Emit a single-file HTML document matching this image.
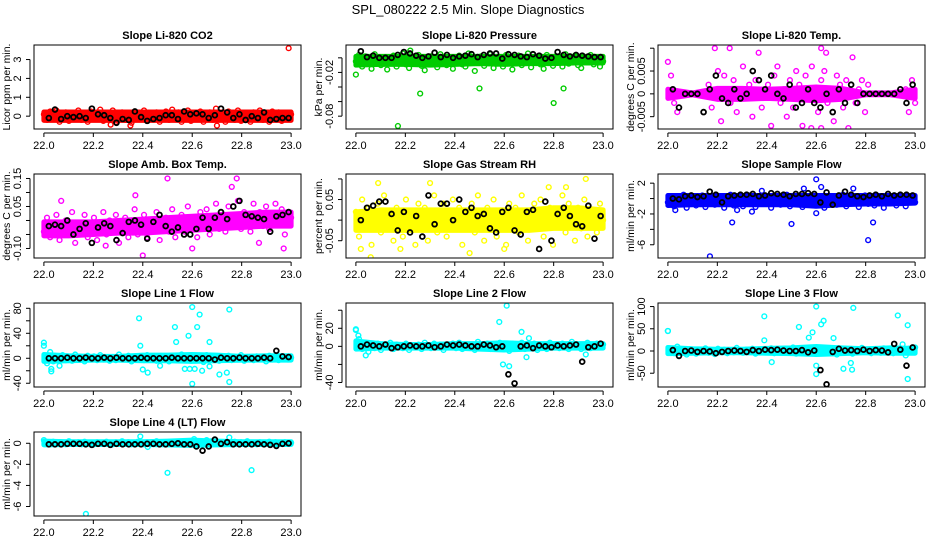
<!DOCTYPE html>
<html><head><meta charset="utf-8">
<style>
html,body{margin:0;padding:0;background:#fff;}
svg{display:block;font-family:"Liberation Sans",Arial,sans-serif;}
</style></head>
<body>
<svg id="chart" width="936" height="540" viewBox="0 0 936 540" xmlns="http://www.w3.org/2000/svg">
<rect width="936" height="540" fill="#fff"/>
<text x="468" y="14" text-anchor="middle" font-size="13">SPL_080222  2.5 Min. Slope Diagnostics</text>
</svg>
<script>
// ---- data ----
const xTicks=[22.0,22.2,22.4,22.6,22.8,23.0];
const xTickLabels=["22.0","22.2","22.4","22.6","22.8","23.0"];
const bandTimes=[22.0,22.1,22.2,22.3,22.4,22.5,22.6,22.7,22.8,22.9,23.0];

const co2Color=[0.1,-0.2,0.25,-0.1,0.3,-0.3,0.05,0.2,-0.25,0.15,-0.05,0.3,-0.2,0.1,-0.3,0.25,0,-0.15,0.35,-0.25,0.15,-0.1,0.3,-0.3,0.05,0.2,-0.2,0.1,-0.35,0.25,0,-0.15,0.3,-0.25,0.15,-0.05,0.2,-0.3,0.1,0.25,-0.2,0.35,-0.1,0.2,-0.3,0.05,0.3,-0.25,0.15,-0.1,0.25,-0.3,0.1,0.2,-0.2,0.4,-0.15,0.05,-0.3,0.25,0.1,-0.2,0.3,-0.25,0.15,0,-0.3,0.2,-0.1,0.3,-0.2,0.1,-0.3,0.25,-0.05,0.2,-0.25,0.15,-0.1,0.1];
const co2Black=[-0.1,0.35,-0.15,0,-0.05,0,-0.1,0.4,0.1,0.05,-0.1,-0.35,-0.15,-0.2,0.25,-0.05,-0.25,-0.15,-0.1,0.05,0.05,-0.15,0.25,0.1,0.15,0.1,-0.1,0.05,0.4,0.2,-0.1,0.1,-0.2,0,-0.1,0.2,-0.2,-0.15,-0.1,-0.1];
const co2OutT=[22.99,22.35,22.7,22.27];
const co2OutV=[3.6,-0.5,-0.5,-0.45];
const co2BandLo=[-0.22,-0.22,-0.22,-0.22,-0.22,-0.22,-0.22,-0.22,-0.22,-0.22,-0.22];
const co2BandHi=[0.22,0.22,0.22,0.22,0.22,0.22,0.22,0.22,0.22,0.22,0.22];

const presColor=[-0.005,0.004,-0.012,0.002,-0.008,-0.015,0.005,-0.003,-0.01,0.001,-0.016,-0.006,0.003,-0.012,-0.002,0.006,-0.009,-0.014,0,-0.005,0.004,-0.011,-0.017,-0.003,0.002,-0.008,-0.013,0.005,-0.006,-0.01,0.001,-0.015,-0.004,0.003,-0.009,-0.012,0.006,-0.002,-0.018,-0.007,0.002,-0.011,-0.004,0.005,-0.014,-0.008,0,-0.012,0.004,-0.006,-0.016,-0.002,0.003,-0.01,-0.005,0.006,-0.013,-0.003,0.001,-0.009,-0.015,0.004,-0.006,-0.011,0.002,-0.004,-0.012,0.005,-0.008,-0.002,0.003,-0.01,-0.014,0,-0.006,0.004,-0.009,-0.003,-0.012,-0.005];
const presBlack=[0.009,0.001,0.003,0,0,0,0.004,0.008,0.006,0.003,0,0.002,0.007,0.001,0.004,0,0.002,0.003,0.005,0.001,0.004,0.006,0.006,-0.001,0.005,0.004,0.002,0.001,0.005,0.003,-0.001,0,0.008,0.004,0.002,0.004,0.003,0.002,0.001,0.001];
const presOutT=[22.17,22.26,22.5,22.8,22.84,22.0,22.22];
const presOutV=[-0.0935,-0.049,-0.042,-0.062,-0.042,-0.023,0.01];
const presBandLo=[-0.01,-0.009,-0.009,-0.01,-0.009,-0.008,-0.009,-0.008,-0.008,-0.007,-0.007];
const presBandHi=[0.002,0.002,0.002,0.002,0.002,0.002,0.002,0.002,0.002,0.002,0.002];

const tempColor=[0.007,0.004,-0.002,-0.004,0,0,0,0,0,0,0,0,0,0.002,-0.003,0.01,0.005,-0.006,0.004,0,-0.002,0.003,-0.004,0.001,0.006,-0.001,0.002,-0.005,0.003,0.009,-0.003,0,0.002,-0.007,0.004,0.006,-0.002,0.001,-0.005,0.003,-0.003,0.005,0.002,-0.007,0.004,-0.001,0.006,0,-0.004,0.003,0.005,-0.002,0.001,-0.006,0.004,0.002,-0.003,0.003,0,0.008,-0.002,0.001,0.003,-0.004,0.002,0,0,0,0,0,0,0,0,0,0,0,0.001,-0.004,0.003,-0.002];
const tempBlack=[0.001,-0.003,0,0,0,-0.004,0.001,0.004,-0.001,-0.002,0.001,-0.001,0,0.005,0.003,0.001,0.004,0,-0.001,0.002,-0.003,-0.002,0.001,-0.002,-0.003,0,-0.004,0.001,-0.002,0.002,-0.002,0,0,0,0,0,0,0.001,-0.002,0.002];
const tempOutT=[22.25,22.62,22.58,22.73,22.62,22.64];
const tempOutV=[0.01,0.01,-0.0075,-0.0075,-0.0075,0.009];
const tempBandLo=[-0.001,-0.0002,-0.0012,-0.0012,-0.001,-0.0012,-0.0015,-0.0012,-0.0002,-0.0002,-0.001];
const tempBandHi=[0.001,0.0002,0.0012,0.0012,0.001,0.0012,0.0015,0.0012,0.0002,0.0002,0.001];

const ambColor=[-0.04,0.01,-0.06,-0.02,0.02,-0.07,-0.03,0,-0.05,0.03,-0.08,-0.01,-0.04,0.02,-0.06,-0.02,0.01,-0.07,-0.03,0.03,-0.05,0,-0.04,0.02,-0.08,-0.02,0.01,-0.06,-0.03,0.04,-0.05,-0.01,0.02,-0.06,0,-0.03,0.03,-0.07,-0.02,0.01,-0.04,0.04,-0.06,-0.01,0.02,-0.04,0.05,-0.03,0,-0.06,0.03,-0.02,0.04,-0.05,0.01,0.06,-0.03,0.02,-0.04,0.05,0,-0.02,0.07,-0.03,0.03,0.01,-0.04,0.06,0,0.03,-0.02,0.05,-0.03,0.02,0.06,-0.01,0.04,-0.05,0.03,0.01];
const ambBlack=[-0.02,-0.015,-0.02,0,-0.05,-0.03,-0.01,-0.08,-0.025,-0.01,-0.02,-0.07,-0.045,-0.005,0,-0.015,-0.065,-0.005,0.02,-0.02,-0.04,-0.025,-0.05,-0.05,-0.03,0.01,-0.03,0.01,0.03,0.005,0.05,0.07,0.02,0.015,0.01,0.005,-0.04,0.015,0.02,0.03];
const ambOutT=[22.5,22.78,22.76,22.4,22.25,22.37,22.97,22.6,22.87,22.07];
const ambOutV=[0.15,0.15,0.12,-0.125,-0.09,0.09,-0.1,-0.1,-0.08,0.07];
const ambBandLo=[-0.055,-0.055,-0.05,-0.045,-0.045,-0.04,-0.035,-0.03,-0.025,-0.02,-0.02];
const ambBandHi=[-0.005,-0.005,-0.005,0,0.005,0.01,0.015,0.02,0.025,0.03,0.03];

const rhColor=[0.02,-0.04,0.05,-0.01,0.03,-0.06,0.01,0.04,-0.03,0.06,-0.02,0.02,-0.05,0.03,0,-0.04,0.05,-0.02,0.01,-0.06,0.04,-0.01,0.03,-0.05,0.02,0.06,-0.03,0,0.04,-0.04,0.01,0.05,-0.02,0.03,-0.06,0.02,-0.01,0.04,-0.03,0.06,0,-0.05,0.03,-0.02,0.05,-0.04,0.01,0.02,-0.06,0.04,-0.01,0.03,-0.03,0.06,0,-0.05,0.02,0.04,-0.02,0.05,-0.04,0.01,0.03,-0.06,0.02,-0.01,0.06,-0.03,0.04,0,-0.05,0.03,-0.02,0.05,-0.04,0.02,0.01,-0.03,0.04,0];
const rhBlack=[0,0.03,0.035,0.045,0.045,0.015,-0.025,0.02,-0.03,0.01,-0.04,0.06,-0.01,0.04,0.04,0,0.05,0.02,0.03,0.01,0.015,-0.02,-0.03,0.02,0.03,-0.025,-0.035,0.02,0.025,-0.07,0.045,-0.05,0.015,0.03,0.01,-0.01,-0.015,0.035,-0.045,0.01];
const rhOutT=[22.09,22.3,22.93,22.85,22.78,22.02,22.06,22.6,22.18,22.46];
const rhOutV=[0.09,0.09,0.1,0.08,0.08,-0.07,-0.09,-0.07,-0.07,-0.08];
const rhBandLo=[-0.025,-0.025,-0.025,-0.025,-0.025,-0.025,-0.025,-0.025,-0.02,-0.02,-0.02];
const rhBandHi=[0.02,0.025,0.025,0.025,0.025,0.025,0.025,0.025,0.03,0.03,0.025];

const flowColor=[-0.5,0.3,-1,0,-0.7,0.5,-1.2,-0.3,0.2,-0.9,-0.1,0.4,-1.1,-0.4,0.1,-0.8,0.3,-0.6,-1.2,0,0.5,-0.9,-0.3,0.2,-1,-0.5,0.4,-0.2,-1.1,0.1,-0.7,0.3,-0.4,-1.2,0,0.2,-0.8,-0.3,0.5,-1,-0.1,0.3,-0.6,-1.1,0.1,-0.4,0.4,-0.9,-0.2,0.2,-1.2,0,-0.5,0.3,-0.8,-0.3,0.5,-1,0.1,-0.6,0.2,-1.1,-0.2,0.4,-0.7,0,-0.9,0.3,-0.4,-1.2,0.1,-0.6,0.2,-0.9,-0.1,0.3,-1,-0.3,0.2,-0.5];
const flowBlack=[0,-0.1,0.3,0.4,0.2,0.3,0.9,0.5,-0.5,0.3,0.4,0.5,0.5,0.6,0.3,0.4,0.7,0.6,0.5,0.3,0.6,0.6,0.7,0.6,-0.5,0.8,-0.8,0.4,0.9,0.5,0.3,0.2,0.4,0.5,0.3,0.6,0.4,0.5,0.5,0.4];
const flowOutT=[22.6,22.62,22.55,22.75,22.38,22.17,22.26,22.5,22.81,22.83,22.6,22.03,22.34,22.28];
const flowOutV=[2.5,1.5,1.3,1.3,1.0,-7.5,-3.1,-3.3,-5.4,-3.1,-1.9,-1.5,-1.7,-1.5];
const flowBandLo=[-0.9,-0.8,-0.8,-0.8,-0.8,-0.8,-1.0,-0.8,-0.7,-0.7,-0.6];
const flowBandHi=[0.4,0.4,0.4,0.4,0.4,0.4,0.4,0.4,0.4,0.4,0.4];

const l1Color=[20,-8,10,-5,3,-12,5,-3,1,-4,6,-2,2,-5,4,-1,3,-3,5,-2,1,-4,2,-3,6,0,-2,4,-5,2,-1,3,-3,5,-2,1,-4,3,-1,2,-5,4,0,-3,6,-2,1,-4,3,-1,2,-6,5,-2,0,3,-4,2,-1,4,-3,1,-2,5,-4,2,0,-3,3,-1,2,-5,4,-2,1,-3,3,0,-2,1];
const l1Black=[0,0,0,1,0,0,1,0,0,1,0,1,0,0,0,1,0,0,0,0,1,0,0,0,0,0,0,-2,1,0,0,1,0,0,0,1,0,12,3,2];
const l1OutT=[22.0,22.03,22.03,22.385,22.39,22.4,22.42,22.47,22.53,22.535,22.585,22.6,22.62,22.63,22.64,22.6,22.67,22.67,22.71,22.74,22.75,22.75,22.57,22.59,22.61];
const l1OutV=[25,-17,-21,64,20,-18,-23,-12,50,26,36,82,50,70,-20,-41,26,-13,-26,-23,78,-38,-17,-17,-17];
const l1BandLo=[-5,-4,-3,-3,-4,-4,-5,-4,-3,-3,-3];
const l1BandHi=[6,4,3,3,5,5,6,5,3,4,4];

const l2Color=[18,8,-3,4,-6,2,-2,3,-4,1,-1,4,-3,2,0,-2,3,-4,1,-1,2,-3,4,0,-2,3,-1,2,-4,1,0,3,-2,4,-3,1,-1,2,-4,5,-2,0,3,-3,1,-1,4,-2,2,-5,3,0,-2,4,-3,1,-1,3,-4,2,0,-3,4,-1,1,-2,3,0,-3,5,-1,2,-3,1,4,-2,0,3,-1,2];
const l2Black=[0,2,1,0,2,-2,-1,0,1,0,0,1,-1,0,2,1,2,1,0,0,2,1,-1,0,-31,-41,0,1,-2,1,0,-1,1,0,1,2,-17,-1,0,3];
const l2OutT=[22.0,22.01,22.04,22.58,22.61,22.595,22.62,22.67,22.69,22.7,22.93];
const l2OutV=[19,12,-10,27,45,-20,-22,16,-12,9,-9];
const l2BandLo=[-3,-2,-2,-2,-2,-3,-4,-3,-2,-2,-2];
const l2BandHi=[6,3,2,2,3,3,4,3,3,3,3];

const l3Color=[45,5,-5,10,-3,2,-8,4,0,-6,3,-2,6,-4,1,-7,5,-1,3,-5,2,-3,7,0,-4,3,-2,5,-6,1,-1,4,-3,6,-5,2,0,-4,3,-2,8,-6,1,-3,5,0,-5,2,-2,6,-4,1,-1,3,-8,5,-2,0,4,-6,2,-3,7,-1,1,-5,3,0,-4,6,-2,2,-5,4,-1,15,-10,5,-3,8];
const l3Black=[2,-11,0,1,-2,0,-1,-5,-2,0,1,0,-2,2,0,3,2,3,1,0,0,2,-3,1,-43,-75,-2,5,1,2,0,3,0,2,1,-3,16,3,-33,8];
const l3OutT=[22.0,22.39,22.39,22.42,22.53,22.6,22.62,22.63,22.585,22.57,22.6,22.6,22.67,22.71,22.74,22.745,22.75,22.93,22.97,22.97];
const l3OutV=[45,78,24,-25,54,100,60,68,42,30,-52,-33,29,-40,-27,-42,97,80,58,-63];
const l3BandLo=[-6,-5,-4,-4,-5,-6,-8,-6,-4,-5,-5];
const l3BandHi=[8,5,4,4,6,7,10,7,5,7,6];

const l4Color=[0.3,0.1,-0.1,0.15,-0.05,0.1,0,-0.1,0.2,0.05,-0.05,0.1,-0.1,0.15,0,0.05,-0.1,0.1,0,-0.05,0.15,0.05,-0.1,0.1,0,0.2,-0.05,0.1,-0.1,0.05,0.15,0,-0.1,0.1,0.05,-0.05,0.2,0,0.1,-0.1,0.05,0.15,-0.05,0.1,0,-0.1,0.2,0.05,0.4,-0.05,0.1,0,0.3,-0.1,0.05,0.15,0,-0.05,0.1,0.05,-0.1,0.15,0,0.1,-0.05,0.2,0,0.05,-0.1,0.1,0.05,-0.05,0.15,0,0.1,-0.05,0.05,0.1,0,0.05];
const l4Black=[-0.1,-0.1,-0.1,-0.05,-0.05,-0.05,-0.1,-0.15,-0.05,-0.05,-0.15,-0.05,-0.1,-0.1,-0.1,-0.1,-0.05,-0.05,-0.1,-0.1,-0.05,0,-0.1,-0.1,-0.3,-0.7,-0.3,0.35,-0.05,0.1,-0.1,-0.1,-0.1,-0.1,-0.05,-0.1,-0.15,-0.25,-0.05,0];
const l4OutT=[22.17,22.5,22.84,22.39,22.75,22.42];
const l4OutV=[-6.7,-2.8,-2.55,0.65,0.55,-0.35];
const l4BandLo=[-0.15,-0.12,-0.12,-0.12,-0.12,-0.15,-0.2,-0.15,-0.12,-0.12,-0.12];
const l4BandHi=[0.2,0.15,0.15,0.15,0.15,0.2,0.3,0.2,0.15,0.15,0.15];

const co2Ticks=[0,1,2,3], co2Labels=["0","1","2","3"];
const presTicks=[0,-0.02,-0.04,-0.06,-0.08], presLabels=["","-0.02","","","-0.08"];
const tempTicks=[0.01,0.005,0,-0.005], tempLabels=["","0.005","0","-0.005"];
const ambTicks=[0.15,0.1,0.05,0,-0.05,-0.1], ambLabels=["0.15","","0.05","","","-0.10"];
const rhTicks=[0.1,0.05,0,-0.05], rhLabels=["","0.05","","-0.05"];
const flowTicks=[2,0,-2,-4,-6], flowLabels=["2","","-2","","-6"];
const l1Ticks=[80,60,40,20,0,-20,-40], l1Labels=["80","","40","","0","","-40"];
const l2Ticks=[40,20,0,-20,-40], l2Labels=["","20","0","","-40"];
const l3Ticks=[100,50,0,-50], l3Labels=["100","50","0","-50"];
const l4Ticks=[0,-2,-4,-6], l4Labels=["0","-2","-4","-6"];

// ---- layout ----
const panels=[
 {key:"co2",title:"Slope Li-820 CO2",ylab:"Licor ppm per min.",ymin:-0.68,ymax:3.77,color:"#ff0000",c:co2Color,b:co2Black,ot:co2OutT,ov:co2OutV,lo:co2BandLo,hi:co2BandHi,ticks:co2Ticks,labels:co2Labels,col:0,row:0},
 {key:"pressure",title:"Slope Li-820 Pressure",ylab:"kPa per min.",ymin:-0.0976,ymax:0.0176,color:"#00cc00",c:presColor,b:presBlack,ot:presOutT,ov:presOutV,lo:presBandLo,hi:presBandHi,ticks:presTicks,labels:presLabels,col:1,row:0},
 {key:"temp",title:"Slope Li-820 Temp.",ylab:"degrees C per min.",ymin:-0.0077,ymax:0.0107,color:"#ff00ff",c:tempColor,b:tempBlack,ot:tempOutT,ov:tempOutV,lo:tempBandLo,hi:tempBandHi,ticks:tempTicks,labels:tempLabels,col:2,row:0},
 {key:"amb-temp",title:"Slope Amb. Box Temp.",ylab:"degrees C per min.",ymin:-0.134,ymax:0.166,color:"#ff00ff",c:ambColor,b:ambBlack,ot:ambOutT,ov:ambOutV,lo:ambBandLo,hi:ambBandHi,ticks:ambTicks,labels:ambLabels,col:0,row:1},
 {key:"rh",title:"Slope Gas Stream RH",ylab:"percent per min.",ymin:-0.092,ymax:0.112,color:"#ffff00",c:rhColor,b:rhBlack,ot:rhOutT,ov:rhOutV,lo:rhBandLo,hi:rhBandHi,ticks:rhTicks,labels:rhLabels,col:1,row:1},
 {key:"sample-flow",title:"Slope Sample Flow",ylab:"ml/min per min.",ymin:-7.72,ymax:3.19,color:"#0000ff",c:flowColor,b:flowBlack,ot:flowOutT,ov:flowOutV,lo:flowBandLo,hi:flowBandHi,ticks:flowTicks,labels:flowLabels,col:2,row:1},
 {key:"line1",title:"Slope Line 1 Flow",ylab:"ml/min per min.",ymin:-46,ymax:88.5,color:"#00ffff",c:l1Color,b:l1Black,ot:l1OutT,ov:l1OutV,lo:l1BandLo,hi:l1BandHi,ticks:l1Ticks,labels:l1Labels,col:0,row:2},
 {key:"line2",title:"Slope Line 2 Flow",ylab:"ml/min per min.",ymin:-45,ymax:48,color:"#00ffff",c:l2Color,b:l2Black,ot:l2OutT,ov:l2OutV,lo:l2BandLo,hi:l2BandHi,ticks:l2Ticks,labels:l2Labels,col:1,row:2},
 {key:"line3",title:"Slope Line 3 Flow",ylab:"ml/min per min.",ymin:-81,ymax:108,color:"#00ffff",c:l3Color,b:l3Black,ot:l3OutT,ov:l3OutV,lo:l3BandLo,hi:l3BandHi,ticks:l3Ticks,labels:l3Labels,col:2,row:2},
 {key:"line4",title:"Slope Line 4 (LT) Flow",ylab:"ml/min per min.",ymin:-6.9,ymax:1.07,color:"#00ffff",c:l4Color,b:l4Black,ot:l4OutT,ov:l4OutV,lo:l4BandLo,hi:l4BandHi,ticks:l4Ticks,labels:l4Labels,col:0,row:3}
];
const NS="http://www.w3.org/2000/svg";
const svg=document.getElementById("chart");
const colX=[34,346,658], rowY=[45,174,303,432], W=267, H=84;
const T0=21.96, T1=23.04;
function mk(tag,attrs,parent){const e=document.createElementNS(NS,tag);for(const k in attrs)e.setAttribute(k,attrs[k]);parent.appendChild(e);return e;}

panels.forEach(p=>{
  const L=colX[p.col], Tp=rowY[p.row], B=Tp+H;
  const xs=t=>L+(t-T0)/(T1-T0)*W;
  const ys=v=>B-(v-p.ymin)/(p.ymax-p.ymin)*H;
  const g=mk("g",{},svg);
  
  
  const clipId="clip-"+p.key;
  const cp=mk("clipPath",{id:clipId},g);
  mk("rect",{x:L,y:Tp,width:W,height:H},cp);
  const pts=mk("g",{"clip-path":"url(#"+clipId+")",fill:"none"},g);
  
  
  let d="";
  bandTimes.forEach((t,i)=>{d+=(i?"L":"M")+xs(t)+" "+ys(p.hi[i]);});
  for(let i=bandTimes.length-1;i>=0;i--){d+="L"+xs(bandTimes[i])+" "+ys(p.lo[i]);}
  d+="Z";
  const band=mk("path",{d:d,fill:p.color,stroke:p.color,"stroke-width":5,"stroke-linejoin":"round"},pts);
  
  
  p.c.forEach((v,i)=>{
    const t=22+i/(p.c.length-1);
    const c=mk("circle",{cx:xs(t),cy:ys(v),r:2.4,stroke:p.color,"stroke-width":1.4},pts);
    
    
  });
  p.ot.forEach((t,i)=>{
    const c=mk("circle",{cx:xs(t),cy:ys(p.ov[i]),r:2.4,stroke:p.color,"stroke-width":1.4},pts);
    
    
  });
  p.b.forEach((v,i)=>{
    const t=22.02+i*0.97/(p.b.length-1);
    const c=mk("circle",{cx:xs(t),cy:ys(v),r:2.4,stroke:"#000","stroke-width":1.8},pts);
    
    
  });
  const box=mk("rect",{x:L,y:Tp,width:W,height:H,fill:"none",stroke:"#000","stroke-width":1},g);
  
  
  const ttl=mk("text",{x:L+W/2,y:Tp-6,"text-anchor":"middle","font-size":11,"font-weight":"bold"},g);
  ttl.textContent=p.title;
  
  
  const ax=mk("g",{stroke:"#000","stroke-width":1},g);
  
  
  const ay0=B+4;
  mk("line",{x1:xs(xTicks[0]),y1:ay0,x2:xs(xTicks[xTicks.length-1]),y2:ay0},ax);
  xTicks.forEach((t,i)=>{
    mk("line",{x1:xs(t),y1:ay0,x2:xs(t),y2:ay0+4},ax);
    const tl=mk("text",{x:xs(t),y:B+20,"text-anchor":"middle","font-size":11,stroke:"none"},g);
    tl.textContent=xTickLabels[i];
    
    
  });
  const yax=mk("g",{stroke:"#000","stroke-width":1},g);
  
  
  const axX=L-4;
  const tv=p.ticks.map(ys);
  mk("line",{x1:axX,y1:Math.min(...tv),x2:axX,y2:Math.max(...tv)},yax);
  p.ticks.forEach((v,i)=>{
    const y=ys(v);
    mk("line",{x1:axX-4,y1:y,x2:axX,y2:y},yax);
    if(p.labels[i]){
      const tl=mk("text",{x:L-13,y:y,"text-anchor":"middle","font-size":11,transform:"rotate(-90 "+(L-13)+" "+y+")"},g);
      tl.textContent=p.labels[i];
      
      
    }
  });
  const yl=mk("text",{x:L-24,y:Tp+H/2,"text-anchor":"middle","font-size":10.5,transform:"rotate(-90 "+(L-24)+" "+(Tp+H/2)+")"},g);
  yl.textContent=p.ylab;
  
  
});
</script>
</body></html>
